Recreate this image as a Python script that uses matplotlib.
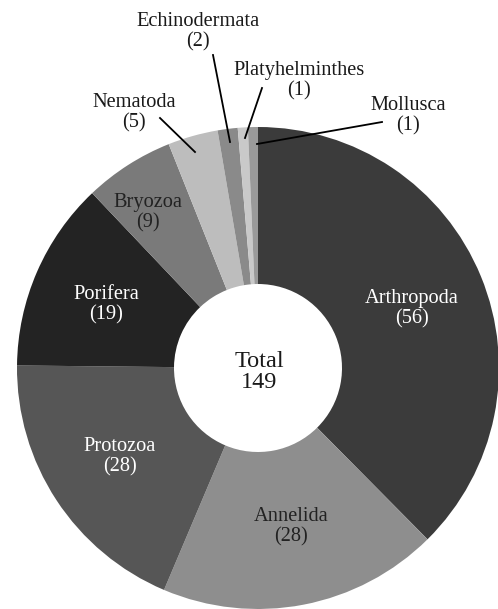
import matplotlib
matplotlib.use("Agg")
import matplotlib.pyplot as plt

categories = ["Arthropoda", "Annelida", "Protozoa", "Porifera", "Bryozoa",
              "Nematoda", "Echinodermata", "Platyhelminthes", "Mollusca"]
counts = [56, 28, 28, 19, 9, 5, 2, 1, 1]
colors = ["#3b3b3b", "#8e8e8e", "#565656", "#232323", "#7a7a7a",
          "#bdbdbd", "#8a8a8a", "#c9c9c9", "#9a9a9a"]
total = sum(counts)

plt.rcParams['font.family'] = ['Liberation Serif', 'DejaVu Serif']

W, H = 498, 609
fig = plt.figure(figsize=(W / 100, H / 100), dpi=100)
ax = fig.add_axes([0, 0, 1, 1])

cx, cy = 258, H - 368
R = 241
wedges, _ = ax.pie(counts, colors=colors, startangle=90, counterclock=False,
                   center=(cx, cy), radius=R,
                   wedgeprops=dict(width=R - 84, linewidth=0))
ax.set_xlim(0, W)
ax.set_ylim(0, H)
ax.set_aspect('equal')
ax.axis('off')

fs = 14.7
# inner labels (pixel coords from top)
inner = {
    "Arthropoda": (412, 309, "white"),
    "Annelida": (291, 527, "#222222"),
    "Protozoa": (120, 457, "white"),
    "Porifera": (106, 305, "white"),
    "Bryozoa": (148, 213, "#222222"),
}
for name, (x, y, c) in inner.items():
    v = counts[categories.index(name)]
    ax.text(x, H - y, f"{name}\n({v})", ha='center', va='center',
            fontsize=fs, color=c, linespacing=1.12, zorder=5)

# outer labels with leader lines: text pos, line start, line end
outer = {
    "Nematoda": ((134, 113), (160, 118), (195, 152)),
    "Echinodermata": ((198, 32), (213, 55), (230, 142)),
    "Platyhelminthes": ((299, 81), (262, 88), (245, 138)),
    "Mollusca": ((408, 116), (382, 122), (257, 144)),
}
for name, ((tx, ty), (x1, y1), (x2, y2)) in outer.items():
    v = counts[categories.index(name)]
    ax.text(tx, H - ty, f"{name}\n({v})", ha='center', va='center',
            fontsize=fs, color="#1a1a1a", linespacing=1.12, zorder=5)
    ax.plot([x1, x2], [H - y1, H - y2], color="black", lw=1.3, zorder=6)

ax.text(259, H - 372, f"Total\n{total}", ha='center', va='center',
        fontsize=17.5, color="#1a1a1a", linespacing=1.05, zorder=5)

fig.savefig("out.png", dpi=100)
